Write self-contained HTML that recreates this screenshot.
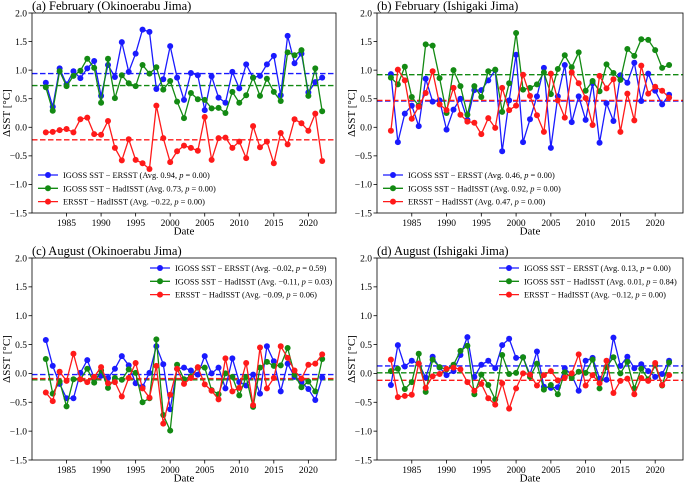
<!DOCTYPE html>
<html><head><meta charset="utf-8"><style>
body{margin:0;background:#fff}
svg{display:block;font-family:"Liberation Serif",serif}
</style></head><body>
<svg id="fig" width="685" height="482" viewBox="0 0 685 482"></svg>
<script>
const years=[];for(let y=1982;y<=2022;y++)years.push(y);
const yTicks=[2.0,1.5,1.0,0.5,0.0,-0.5,-1.0,-1.5];
const yTickLabels=["2.0","1.5","1.0","0.5","0.0","\u22120.5","\u22121.0","\u22121.5"];
const xTicks=[1985,1990,1995,2000,2005,2010,2015,2020];
const seriesNames=["IGOSS SST \u2212 ERSST","IGOSS SST \u2212 HadISST","ERSST \u2212 HadISST"];
const colors=["#1a1aff","#138a13","#ff1a1a"];

const aBlue=[0.78,0.36,1.03,0.75,0.98,0.86,1.03,1.16,0.55,1.09,0.88,1.49,0.97,1.29,1.71,1.67,0.67,0.84,1.42,0.87,0.48,0.95,0.91,0.30,0.89,0.52,0.43,0.97,0.68,1.10,0.87,0.90,1.10,1.25,0.56,1.60,1.12,1.29,0.61,0.79,0.87];
const aGreen=[0.70,0.29,0.98,0.72,0.90,0.99,1.20,1.04,0.43,1.20,0.51,0.91,0.77,0.72,1.09,0.94,1.05,0.66,0.81,0.45,0.16,0.60,0.49,0.48,0.33,0.34,0.25,0.62,0.43,0.56,0.87,0.55,0.85,0.62,0.46,1.31,1.26,1.35,0.55,1.03,0.28];
const aRed=[-0.09,-0.08,-0.05,-0.03,-0.09,0.14,0.17,-0.12,-0.13,0.11,-0.36,-0.58,-0.21,-0.57,-0.63,-0.73,0.38,-0.19,-0.61,-0.42,-0.32,-0.36,-0.41,0.18,-0.57,-0.19,-0.18,-0.36,-0.25,-0.54,0.02,-0.35,-0.25,-0.63,-0.10,-0.30,0.14,0.07,-0.06,0.24,-0.59];
const aAvg=[0.94,0.73,-0.22];
const aLegend=["(Avg. 0.94, ","(Avg. 0.73, ","(Avg. \u22120.22, "];
const aP=["0.00","0.00","0.00"];

const bBlue=[0.93,-0.26,0.24,0.38,0.02,0.85,0.45,0.47,-0.04,0.31,0.50,0.13,0.65,0.65,0.82,1.00,-0.42,0.47,1.27,-0.26,0.14,0.54,1.04,-0.36,0.54,1.09,0.09,0.54,0.13,0.77,-0.27,0.42,0.11,0.91,0.78,1.13,0.46,0.94,0.64,0.40,0.57];
const bGreen=[0.87,0.75,1.06,0.53,0.38,1.45,1.43,0.86,0.25,1.00,0.72,0.22,0.72,0.53,0.98,1.01,0.27,0.77,1.65,0.66,0.69,0.75,0.96,0.58,1.02,1.26,1.05,1.31,0.64,0.81,0.63,1.10,0.95,0.83,1.37,1.25,1.54,1.53,1.35,1.04,1.09];
const bRed=[-0.06,1.01,0.82,0.15,0.36,0.60,0.98,0.40,0.30,0.69,0.22,0.10,0.08,-0.12,0.16,-0.01,0.69,0.30,0.38,0.92,0.55,0.21,-0.08,0.94,0.47,0.17,0.96,0.77,0.51,0.04,0.90,0.68,0.84,-0.08,0.59,0.12,1.08,0.59,0.71,0.64,0.52];
const bAvg=[0.46,0.92,0.47];
const bLegend=["(Avg. 0.46, ","(Avg. 0.92, ","(Avg. 0.47, "];
const bP=["0.00","0.00","0.00"];

const cBlue=[0.58,0.13,-0.18,-0.43,-0.43,0.01,0.23,-0.08,-0.04,-0.08,0.08,0.30,0.14,-0.17,-0.23,0.01,0.47,0.16,-0.62,0.08,0.10,0.05,-0.02,0.30,0.00,0.10,-0.26,0.26,-0.15,-0.21,-0.02,-0.35,0.47,0.21,-0.31,0.17,-0.06,-0.15,-0.27,-0.46,-0.07];
const cGreen=[0.25,-0.35,-0.14,-0.57,-0.10,-0.10,0.08,-0.16,0.05,-0.25,-0.08,-0.11,0.07,0.01,-0.50,-0.43,0.59,-0.72,-0.99,0.15,-0.10,-0.05,0.10,0.10,-0.29,-0.36,0.00,-0.06,-0.38,-0.06,-0.58,0.10,0.20,0.13,0.14,0.44,-0.02,-0.24,-0.14,-0.31,0.25];
const cRed=[-0.33,-0.48,0.03,-0.13,0.34,-0.10,-0.15,-0.06,0.11,-0.17,-0.15,-0.40,-0.08,0.18,-0.26,-0.42,0.13,-0.87,-0.37,0.08,-0.18,-0.08,0.11,-0.19,-0.30,-0.45,0.26,-0.31,-0.25,0.18,-0.55,0.45,-0.26,-0.08,0.47,0.27,0.05,-0.09,0.15,0.17,0.33];
const cAvg=[-0.02,-0.11,-0.09];
const cLegend=["(Avg. \u22120.02, ","(Avg. \u22120.11, ","(Avg. \u22120.09, "];
const cP=["0.59","0.03","0.06"];

const dBlue=[-0.20,0.49,0.12,0.22,0.17,-0.07,0.29,0.10,-0.03,0.04,0.32,0.63,-0.06,0.15,0.22,0.09,0.49,0.60,0.27,0.28,-0.02,0.38,-0.23,-0.25,-0.24,0.09,-0.03,-0.30,0.22,0.27,-0.09,-0.11,0.62,0.13,0.29,0.09,0.16,0.04,-0.06,-0.01,0.22];
const dGreen=[0.04,0.08,-0.27,-0.15,0.34,-0.32,0.24,0.11,0.07,0.15,0.39,0.48,-0.36,-0.02,-0.20,-0.45,0.32,-0.01,0.01,0.28,-0.06,0.17,-0.28,-0.20,-0.36,0.02,-0.08,0.03,0.01,0.24,-0.26,0.11,0.28,0.00,0.20,-0.26,0.08,-0.10,0.14,-0.21,0.19];
const dRed=[0.24,-0.41,-0.39,-0.37,0.17,-0.25,-0.05,-0.01,0.08,0.10,0.07,-0.15,-0.30,-0.18,-0.43,-0.54,-0.17,-0.61,-0.26,0.00,-0.02,-0.21,-0.03,0.04,-0.12,-0.07,0.00,0.33,-0.21,-0.03,-0.17,0.22,-0.34,-0.13,-0.09,-0.36,-0.08,-0.13,0.18,-0.20,-0.03];
const dAvg=[0.13,0.01,-0.12];
const dLegend=["(Avg. 0.13, ","(Avg. 0.01, ","(Avg. \u22120.12, "];
const dP=["0.00","0.84","0.00"];

const NS="http://www.w3.org/2000/svg";
const svg=document.getElementById("fig");
function el(tag,attrs,parent){const e=document.createElementNS(NS,tag);for(const k in attrs)e.setAttribute(k,attrs[k]);(parent||svg).appendChild(e);return e;}

const panels=[
 {id:"a",title:"(a) February (Okinoerabu Jima)",L:32,R:336,T:13,B:213,data:[aBlue,aGreen,aRed],avg:aAvg,leg:aLegend,p:aP,legX:38,legY:175},
 {id:"b",title:"(b) February (Ishigaki Jima)",L:377,R:683,T:13,B:213,data:[bBlue,bGreen,bRed],avg:bAvg,leg:bLegend,p:bP,legX:383,legY:175},
 {id:"c",title:"(c) August (Okinoerabu Jima)",L:32,R:336,T:258,B:460,data:[cBlue,cGreen,cRed],avg:cAvg,leg:cLegend,p:cP,legX:150,legY:268},
 {id:"d",title:"(d) August (Ishigaki Jima)",L:377,R:683,T:258,B:460,data:[dBlue,dGreen,dRed],avg:dAvg,leg:dLegend,p:dP,legX:499,legY:268}
];

panels.forEach(P=>{
 const g=el("g",{});
 
 
 const xs=v=>P.L+(v-1980)/(2024-1980)*(P.R-P.L);
 const ys=v=>P.T+(2.0-v)/3.5*(P.B-P.T);
 const t=el("text",{x:P.L,y:P.T-3,"font-size":"12.5"},g);t.textContent=P.title;
 
 yTicks.forEach((v,i)=>{
  el("line",{x1:P.L-3.5,x2:P.L,y1:ys(v),y2:ys(v),stroke:"#000","stroke-width":0.8},g);
  const tl=el("text",{x:P.L-5,y:ys(v)+3.3,"font-size":"9.5","text-anchor":"end"},g);tl.textContent=yTickLabels[i];
  
 });
 xTicks.forEach(v=>{
  el("line",{x1:xs(v),x2:xs(v),y1:P.B,y2:P.B+3.5,stroke:"#000","stroke-width":0.8},g);
  const tl=el("text",{x:xs(v),y:P.B+13,"font-size":"9.5","text-anchor":"middle"},g);tl.textContent=v;
  
 });
 const xl=el("text",{x:(P.L+P.R)/2,y:P.B+21.5,"font-size":"11","text-anchor":"middle"},g);xl.textContent="Date";
 
 const yl=el("text",{x:0,y:0,"font-size":"11","text-anchor":"middle",transform:`translate(${P.L-22},${(P.T+P.B)/2}) rotate(-90)`},g);yl.textContent="\u0394SST [\u00B0C]";
 
 P.avg.forEach((a,k)=>{
  const l=el("line",{x1:P.L,x2:P.R,y1:ys(a),y2:ys(a),stroke:colors[k],"stroke-width":1.4,"stroke-dasharray":"5.5,2.5"},g);
  
 });
 P.data.forEach((arr,k)=>{
  const sg=el("g",{},g);
  
  
  el("polyline",{points:arr.map((v,i)=>xs(years[i])+","+ys(v)).join(" "),fill:"none",stroke:colors[k],"stroke-width":1.3},sg);
  arr.forEach((v,i)=>{
   const c=el("circle",{cx:xs(years[i]),cy:ys(v),r:3,fill:colors[k]},sg);
   
  });
 });
 el("rect",{x:P.L,y:P.T,width:P.R-P.L,height:P.B-P.T,fill:"none",stroke:"#000","stroke-width":0.8},g);
 for(let k=0;k<3;k++){
  const lg=el("g",{},g);
  
  
  const y=P.legY+k*13.3;
  el("line",{x1:P.legX,x2:P.legX+20,y1:y,y2:y,stroke:colors[k],"stroke-width":1.3},lg);
  el("circle",{cx:P.legX+10,cy:y,r:3,fill:colors[k]},lg);
  const tx=el("text",{x:P.legX+25,y:y+3.1,"font-size":"8.4"},lg);
  tx.appendChild(document.createTextNode(seriesNames[k]+" "+P.leg[k]));
  const it=el("tspan",{"font-style":"italic"},tx);it.textContent="p";
  tx.appendChild(document.createTextNode(" = "+P.p[k]+")"));
 }
});
</script>
</body></html>
